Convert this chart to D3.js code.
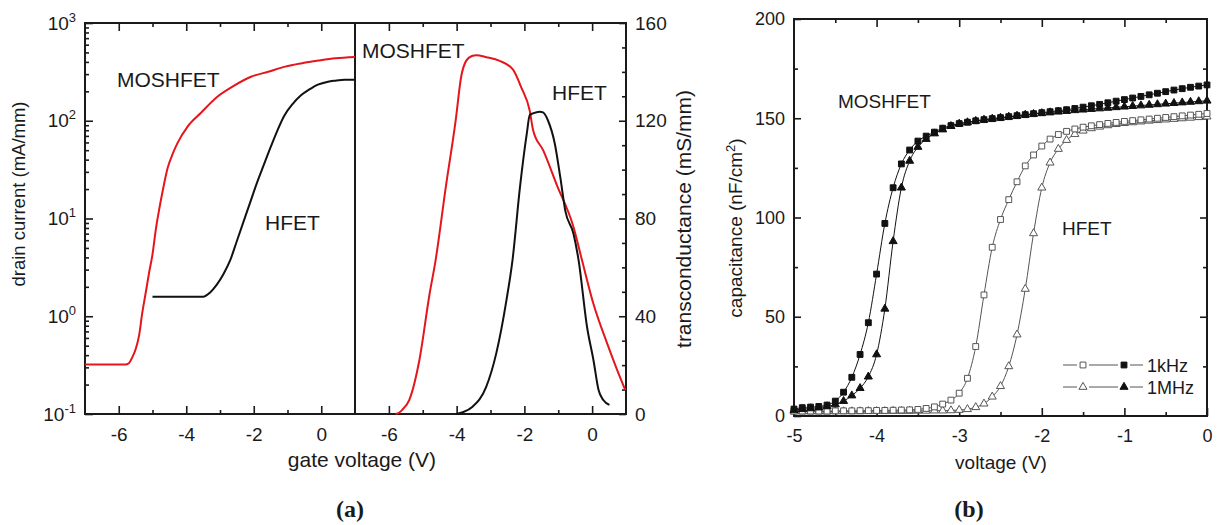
<!DOCTYPE html>
<html>
<head>
<meta charset="utf-8">
<script src="https://cdn.jsdelivr.net/npm/d3@7"></script>
<style>
  body { margin: 0; background: #fff; }
  svg { display: block; }
  text { font-family: "Liberation Sans", Arial, Helvetica, sans-serif; fill: #1a1a1a; }
</style>
</head>
<body>
<svg id="chart" width="1217" height="525"></svg>
<script>
// ---- (a) drain current vs gate voltage (log scale) ----
const idVoltMos = [-7, -6.5, -6, -5.8, -5.7, -5.6, -5.5, -5.4, -5.3, -5.2, -5.1, -5.0, -4.9, -4.8, -4.7, -4.55, -4.4, -4.26, -3.96, -3.57, -3.07, -2.58, -2.08, -1.57, -1.07, -0.57, -0.08, 0.42, 1.0];
const idMos     = [0.32, 0.32, 0.32, 0.32, 0.33, 0.38, 0.46, 0.63, 1.1, 1.75, 2.8, 4.3, 7.8, 12.5, 19, 33, 46, 59, 87, 120, 177, 229, 282, 317, 358, 388, 413, 436, 450];

const idVoltHfet = [-5.0, -4.5, -4.0, -3.5, -3.3, -3.1, -2.9, -2.7, -2.5, -2.3, -2.1, -1.9, -1.7, -1.5, -1.3, -1.1, -0.85, -0.6, -0.35, -0.1, 0.2, 0.4, 0.7, 1.0];
const idHfet     = [1.58, 1.58, 1.58, 1.58, 1.74, 2.09, 2.69, 3.72, 5.89, 9.33, 14.8, 23.4, 35.5, 53.7, 79.4, 112, 148, 182, 209, 234, 251, 257, 263, 263];

// ---- (a) transconductance vs gate voltage ----
const gmVoltMos = [-5.8, -5.7, -5.6, -5.4, -5.1, -4.8, -4.62, -4.32, -4.02, -3.87, -3.72, -3.55, -3.42, -3.12, -2.73, -2.34, -2.09, -1.84, -1.74, -1.44, -1.05, -0.55, -0.3, 0.04, 0.44, 0.74, 0.98];
const gmMos     = [0, 0.5, 1.8, 5.7, 22, 49, 63, 92.8, 121, 137.7, 144.5, 146.5, 146.8, 146, 144.5, 141, 133.6, 124, 116, 107.8, 94, 76.5, 63, 45, 29, 18, 9.8];

const gmVoltHfet = [-4.02, -3.8, -3.53, -3.13, -2.83, -2.53, -2.35, -2.13, -1.93, -1.84, -1.75, -1.55, -1.45, -1.3, -1.1, -0.94, -0.79, -0.55, -0.4, -0.15, 0.04, 0.19, 0.33, 0.51];
const gmHfet     = [0, 0.8, 3, 11, 24.8, 46.5, 63, 92.8, 114.6, 122.4, 123, 123.7, 123.4, 120, 110.5, 96.9, 83, 73.8, 63, 35.6, 22, 9.8, 5.7, 3.7];

// ---- (b) capacitance vs voltage ----
const capVoltage = [-5.0, -4.9, -4.8, -4.7, -4.6, -4.5, -4.4, -4.3, -4.2, -4.1, -4.0, -3.9, -3.8, -3.7, -3.6, -3.5, -3.4, -3.3, -3.2, -3.1, -3.0,
                    -2.9, -2.8, -2.7, -2.6, -2.5, -2.4, -2.3, -2.2, -2.1, -2.0, -1.9, -1.8, -1.7, -1.6, -1.5, -1.4, -1.3, -1.2, -1.1, -1.0,
                    -0.9, -0.8, -0.7, -0.6, -0.5, -0.4, -0.3, -0.2, -0.1, 0.0];
const capMos1k  = [3.5, 4.2, 4.5, 4.8, 5.5, 7.5, 12, 19.5, 31, 47, 71.5, 97, 115, 127, 134, 138.5, 141, 143, 145, 146.3, 147.3,
                   148, 148.7, 149.3, 149.8, 150.3, 150.8, 151.3, 151.8, 152.3, 152.8, 153.3, 153.8, 154.3, 154.9, 155.6, 156.3, 157.0, 157.8, 158.6, 159.4,
                   160.2, 161.0, 161.8, 162.6, 163.4, 164.2, 164.9, 165.6, 166.2, 166.8];
const capMos1M  = [3.0, 3.4, 3.8, 4.2, 4.8, 5.8, 7.5, 10.3, 14, 19.8, 31, 54, 88, 115, 128.5, 135.5, 139.5, 142.3, 144.3, 146, 147.2,
                   147.9, 148.6, 149.2, 149.7, 150.2, 150.7, 151.2, 151.7, 152.1, 152.5, 152.9, 153.3, 153.6, 154.0, 154.3, 154.6, 154.9, 155.2, 155.5, 155.8,
                   156.1, 156.4, 156.7, 157.0, 157.3, 157.6, 157.9, 158.2, 158.5, 158.8];
const capHfet1k = [2.5, 2.5, 2.5, 2.5, 2.5, 2.6, 2.6, 2.6, 2.7, 2.7, 2.8, 2.8, 2.9, 3.0, 3.1, 3.3, 3.8, 4.6, 6.0, 8.0, 11.5,
                   19, 35, 61, 85, 99, 109, 118, 126, 131.5, 136, 139.5, 141.8, 143.4, 144.6, 145.5, 146.2, 146.8, 147.4, 147.9, 148.4,
                   148.8, 149.2, 149.6, 150.0, 150.4, 150.8, 151.2, 151.6, 152.0, 152.4];
const capHfet1M = [2.2, 2.2, 2.2, 2.2, 2.2, 2.3, 2.3, 2.3, 2.3, 2.4, 2.4, 2.4, 2.5, 2.5, 2.5, 2.6, 2.6, 2.7, 2.7, 2.8, 3.0,
                   3.4, 4.4, 6.2, 9.7, 15, 25, 41, 64, 92, 115, 127.6, 134.5, 139, 142, 143.7, 144.9, 145.7, 146.4, 147.0, 147.5,
                   147.9, 148.3, 148.7, 149.0, 149.3, 149.6, 149.9, 150.2, 150.5, 150.8];

const legendLabels = ["1kHz", "1MHz"];
const logTicks = [0.1, 1, 10, 100, 1000];
const logExponents = ["-1", "0", "1", "2", "3"];

// ---------------------------------------------------------------
const svg = d3.select("#chart");
const RED = "#e4161c";
const plain = d => String(d);   // hyphen-minus labels

const xA1 = d3.scaleLinear().domain([-7, 1]).range([85, 355]);
const xA2 = d3.scaleLinear().domain([-7, 1]).range([355, 626]);
const yId = d3.scaleLog().domain([0.1, 1000]).range([414, 23]);
const yGm = d3.scaleLinear().domain([0, 160]).range([414, 23]);

const xB = d3.scaleLinear().domain([-5, 0]).range([794, 1207]);
const yC = d3.scaleLinear().domain([0, 200]).range([416, 19]);

function styleAxis(g) {
  g.select(".domain").remove();
  g.selectAll(".tick line").attr("stroke", "#1a1a1a").attr("stroke-width", 1.6);
  g.selectAll(".tick text").attr("fill", "#1a1a1a").style("font-family", '"Liberation Sans", Arial, sans-serif');
  return g;
}
function ticksOnly(axis, pos, values, size) {
  svg.append("g").attr("transform", pos)
    .call(axis.tickValues(values).tickSizeInner(-size).tickSizeOuter(0).tickFormat(""))
    .call(styleAxis);
}

// ---- panel (a) axes ----
const aMajor = [-6, -4, -2, 0];
const aMinor = [-5, -3, -1];
[xA1, xA2].forEach(x => {
  svg.append("g").attr("transform", "translate(0,414)")
    .call(d3.axisBottom(x).tickValues(aMajor).tickSizeInner(-8).tickSizeOuter(0).tickPadding(14).tickFormat(plain))
    .call(styleAxis)
    .selectAll("text").style("font-size", "19px");
  ticksOnly(d3.axisBottom(x), "translate(0,414)", aMinor, 4);
  ticksOnly(d3.axisTop(x), "translate(0,23)", aMajor, 8);
  ticksOnly(d3.axisTop(x), "translate(0,23)", aMinor, 4);
});

// log axis with superscript decade labels
const gLog = svg.append("g").attr("transform", "translate(85,0)")
  .call(d3.axisLeft(yId).tickValues(logTicks).tickSizeInner(-8).tickSizeOuter(0).tickPadding(9).tickFormat(() => "10"))
  .call(styleAxis);
gLog.selectAll(".tick text")
  .style("font-size", "19px")
  .each(function(d, i) {
    d3.select(this).append("tspan").attr("dy", "-8").style("font-size", "13px").text(logExponents[i]);
  });
const logMinor = [];
[0.1, 1, 10, 100].forEach(dec => { for (let k = 2; k <= 9; k++) logMinor.push(dec * k); });
ticksOnly(d3.axisLeft(yId), "translate(85,0)", logMinor, 4);

// transconductance axis (right)
svg.append("g").attr("transform", "translate(626,0)")
  .call(d3.axisRight(yGm).tickValues([0, 40, 80, 120, 160]).tickSizeInner(-7).tickSizeOuter(0).tickPadding(9).tickFormat(plain))
  .call(styleAxis)
  .selectAll("text").style("font-size", "19px");
ticksOnly(d3.axisRight(yGm), "translate(626,0)", d3.range(10, 160, 10).filter(v => v % 40 !== 0), 4);

// frame (a) with the shared divider
svg.append("rect").attr("x", 85).attr("y", 23).attr("width", 541).attr("height", 391)
  .attr("fill", "none").attr("stroke", "#1a1a1a").attr("stroke-width", 2);
svg.append("line").attr("x1", 355).attr("x2", 355).attr("y1", 23).attr("y2", 414)
  .attr("stroke", "#1a1a1a").attr("stroke-width", 2);

// ---- panel (a) curves ----
function drawCurve(xs, ys, xScale, yScale, color) {
  const line = d3.line().x(d => xScale(d[0])).y(d => yScale(d[1])).curve(d3.curveMonotoneX);
  svg.append("path").datum(d3.zip(xs, ys)).attr("d", line)
    .attr("fill", "none").attr("stroke", color).attr("stroke-width", 2).attr("stroke-linejoin", "round");
}
drawCurve(idVoltMos, idMos, xA1, yId, RED);
drawCurve(idVoltHfet, idHfet, xA1, yId, "#111");
drawCurve(gmVoltMos, gmMos, xA2, yGm, RED);
drawCurve(gmVoltHfet, gmHfet, xA2, yGm, "#111");

// ---- panel (a) text ----
function label(x, y, str, size, anchor) {
  return svg.append("text").attr("x", x).attr("y", y).attr("text-anchor", anchor || "start")
    .style("font-size", size + "px").text(str);
}
label(117, 87, "MOSHFET", 21);
label(265, 230, "HFET", 21);
label(362, 58, "MOSHFET", 21);
label(552, 100, "HFET", 21);
label(362, 467, "gate voltage (V)", 21, "middle");
svg.append("text").attr("transform", "translate(25,194) rotate(-90)").attr("text-anchor", "middle")
  .style("font-size", "18.5px").text("drain current (mA/mm)");
svg.append("text").attr("transform", "translate(691,219) rotate(-90)").attr("text-anchor", "middle")
  .style("font-size", "21px").text("transconductance (mS/mm)");
svg.append("text").attr("x", 350).attr("y", 517).attr("text-anchor", "middle")
  .style("font-family", '"Liberation Serif", "Times New Roman", serif').style("font-weight", "bold")
  .style("font-size", "24px").text("(a)");

// ---- panel (b) axes ----
svg.append("g").attr("transform", "translate(0,416)")
  .call(d3.axisBottom(xB).tickValues([-5, -4, -3, -2, -1, 0]).tickSizeInner(-8).tickSizeOuter(0).tickPadding(13).tickFormat(plain))
  .call(styleAxis)
  .selectAll("text").style("font-size", "18px");
ticksOnly(d3.axisBottom(xB), "translate(0,416)", [-4.5, -3.5, -2.5, -1.5, -0.5], 4);
ticksOnly(d3.axisTop(xB), "translate(0,19)", [-4, -3, -2, -1], 8);
ticksOnly(d3.axisTop(xB), "translate(0,19)", [-4.5, -3.5, -2.5, -1.5, -0.5], 4);

svg.append("g").attr("transform", "translate(794,0)")
  .call(d3.axisLeft(yC).tickValues([0, 50, 100, 150, 200]).tickSizeInner(-7).tickSizeOuter(0).tickPadding(9).tickFormat(plain))
  .call(styleAxis)
  .selectAll("text").style("font-size", "18px");
ticksOnly(d3.axisLeft(yC), "translate(794,0)", [25, 75, 125, 175], 4);
ticksOnly(d3.axisRight(yC), "translate(1207,0)", [50, 100, 150], 7);
ticksOnly(d3.axisRight(yC), "translate(1207,0)", [25, 75, 125, 175], 4);

svg.append("rect").attr("x", 794).attr("y", 19).attr("width", 413).attr("height", 397)
  .attr("fill", "none").attr("stroke", "#1a1a1a").attr("stroke-width", 2);

// ---- panel (b) series ----
const sqSym = d3.symbol().type(d3.symbolSquare).size(34);
const triSym = d3.symbol().type(d3.symbolTriangle).size(28);

function drawCV(values, sym, filled) {
  const pts = d3.zip(capVoltage, values);
  const stroke = filled ? "#111" : "#555";
  const line = d3.line().x(d => xB(d[0])).y(d => yC(d[1])).curve(d3.curveMonotoneX);
  svg.append("path").datum(pts).attr("d", line)
    .attr("fill", "none").attr("stroke", stroke).attr("stroke-width", 1);
  svg.append("g").selectAll("path").data(pts).join("path")
    .attr("transform", d => `translate(${xB(d[0])},${yC(d[1])})`)
    .attr("d", sym())
    .attr("fill", filled ? "#111" : "#fff")
    .attr("stroke", stroke).attr("stroke-width", 1);
}
drawCV(capHfet1M, triSym, false);
drawCV(capHfet1k, sqSym, false);
drawCV(capMos1M, triSym, true);
drawCV(capMos1k, sqSym, true);

// legend: line broken around each marker
const legendRows = [{ y: 365, sym: sqSym }, { y: 387, sym: triSym }];
const legendSegments = [[1063, 1077], [1089, 1118], [1130, 1143]];
legendRows.forEach((r, i) => {
  const g = svg.append("g");
  legendSegments.forEach(s => {
    g.append("line").attr("x1", s[0]).attr("x2", s[1]).attr("y1", r.y).attr("y2", r.y)
      .attr("stroke", "#555").attr("stroke-width", 1);
  });
  g.append("path").attr("transform", `translate(1083,${r.y})`).attr("d", r.sym())
    .attr("fill", "#fff").attr("stroke", "#555").attr("stroke-width", 1);
  g.append("path").attr("transform", `translate(1124,${r.y})`).attr("d", r.sym())
    .attr("fill", "#111").attr("stroke", "#111").attr("stroke-width", 1);
  g.append("text").attr("x", 1147).attr("y", r.y + 6.5).style("font-size", "18px").text(legendLabels[i]);
});

// ---- panel (b) text ----
label(838, 108, "MOSHFET", 19);
label(1062, 235, "HFET", 19);
label(1001, 469, "voltage (V)", 19, "middle");
const capLabel = svg.append("text").attr("transform", "translate(742,228) rotate(-90)").attr("text-anchor", "middle")
  .style("font-size", "19px");
capLabel.append("tspan").text("capacitance (nF/cm");
capLabel.append("tspan").attr("dy", "-7").style("font-size", "13px").text("2");
capLabel.append("tspan").attr("dy", "7").text(")");
svg.append("text").attr("x", 969).attr("y", 517).attr("text-anchor", "middle")
  .style("font-family", '"Liberation Serif", "Times New Roman", serif').style("font-weight", "bold")
  .style("font-size", "24px").text("(b)");
</script>
</body>
</html>
